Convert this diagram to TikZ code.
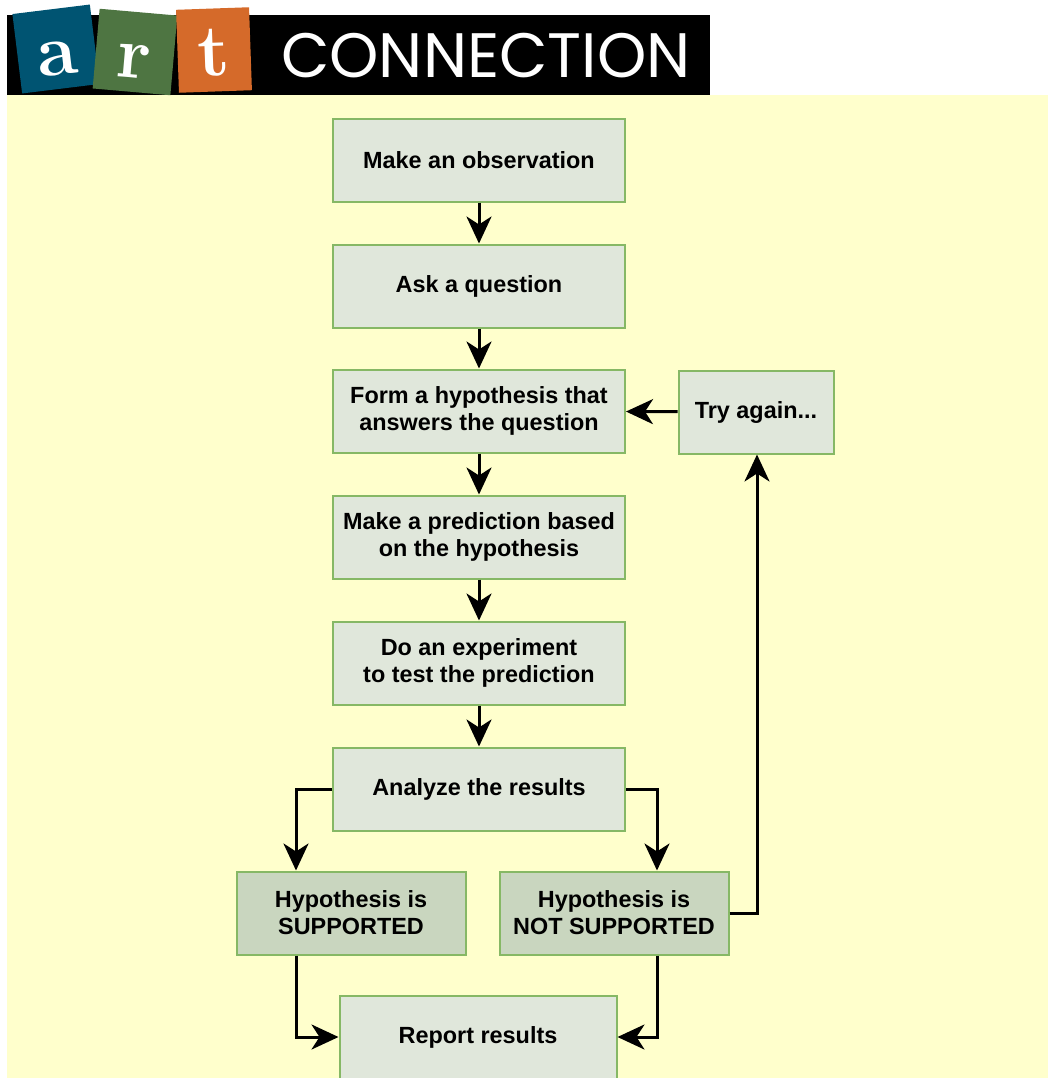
\documentclass[tikz,border=0pt]{standalone}
\usepackage{fontspec}
\setmainfont{Liberation Sans}
\newfontfamily\logofont{Poppins}
\newfontfamily\tilefont{Latin Modern Roman}
\usetikzlibrary{arrows.meta}

\definecolor{paper}{HTML}{FFFFCC}
\definecolor{boxfill}{HTML}{E0E7DB}
\definecolor{boxdark}{HTML}{C9D6BF}
\definecolor{boxline}{HTML}{86B865}
\definecolor{artblue}{HTML}{005472}
\definecolor{artgreen}{HTML}{4E7542}
\definecolor{artorange}{HTML}{D56A2A}

\tikzset{
  stepbox/.style={draw=boxline, line width=2bp, fill=boxfill, minimum width=292bp, minimum height=83bp,
    align=center, inner sep=0pt, font=\fontsize{23.5}{27}\selectfont\bfseries},
  resultbox/.style={stepbox, fill=boxdark, minimum width=229bp},
  logotile/.style={minimum width=78bp, minimum height=80bp, inner sep=0pt, text=white,
    text height=52bp, text depth=0pt, font=\tilefont\bfseries\fontsize{74}{74}\selectfont},
  flow/.style={line width=3bp, -{Stealth[length=27bp,width=25bp,inset=8bp]}}
}

\begin{document}
\begin{tikzpicture}[x=1bp, y=-1bp]
\useasboundingbox (0,0) rectangle (1048,1078);
\fill[paper] (7,95) rectangle (1048,1078);

% header
\fill[black] (7,15) rectangle (710,95);
\node[logotile, fill=artblue, rotate=7] (tilea) at (56,49) {a};
\node[logotile, fill=artgreen, rotate=-5] (tiler) at (135,52) {r};
\node[logotile, fill=artorange, rotate=2, minimum width=73bp, minimum height=83bp] (tilet) at (214,50) {t};
\node[anchor=base west, inner sep=0pt, text=white, font=\logofont\fontsize{63}{63}\selectfont] (conn) at (281,77) {CONNECTION};

% steps
\node[stepbox] (observe) at (479,160) {Make an observation};
\node[stepbox] (question) at (479,286) {Ask a question};
\node[stepbox] (hypo) at (479,411) {Form a hypothesis that\\answers the question};
\node[stepbox] (predict) at (479,537) {Make a prediction based\\on the hypothesis};
\node[stepbox] (experiment) at (479,663) {Do an experiment\\to test the prediction};
\node[stepbox] (analyze) at (479,789) {Analyze the results};
\node[resultbox] (supported) at (351,913) {Hypothesis is\\SUPPORTED};
\node[resultbox] (notsupported) at (614,913) {Hypothesis is\\NOT SUPPORTED};
\node[stepbox, minimum width=277bp] (report) at (478,1037) {Report results};
\node[stepbox, minimum width=155bp] (retry) at (756,412) {Try again...};

\coordinate (leftdrop) at (296,0);
\coordinate (rightdrop) at (657,0);
\coordinate (backup) at (757,0);

\draw[flow] (observe) -- (question);
\draw[flow] (question) -- (hypo);
\draw[flow] (hypo) -- (predict);
\draw[flow] (predict) -- (experiment);
\draw[flow] (experiment) -- (analyze);
\draw[flow] (analyze.west) -| (supported.north -| leftdrop);
\draw[flow] (analyze.east) -| (notsupported.north -| rightdrop);
\draw[flow] (supported.south -| leftdrop) |- (report.west);
\draw[flow] (notsupported.south -| rightdrop) |- (report.east);
\draw[flow] (notsupported.east) -| (retry.south -| backup);
\draw[flow] (retry) -- (hypo);
\end{tikzpicture}
\end{document}
